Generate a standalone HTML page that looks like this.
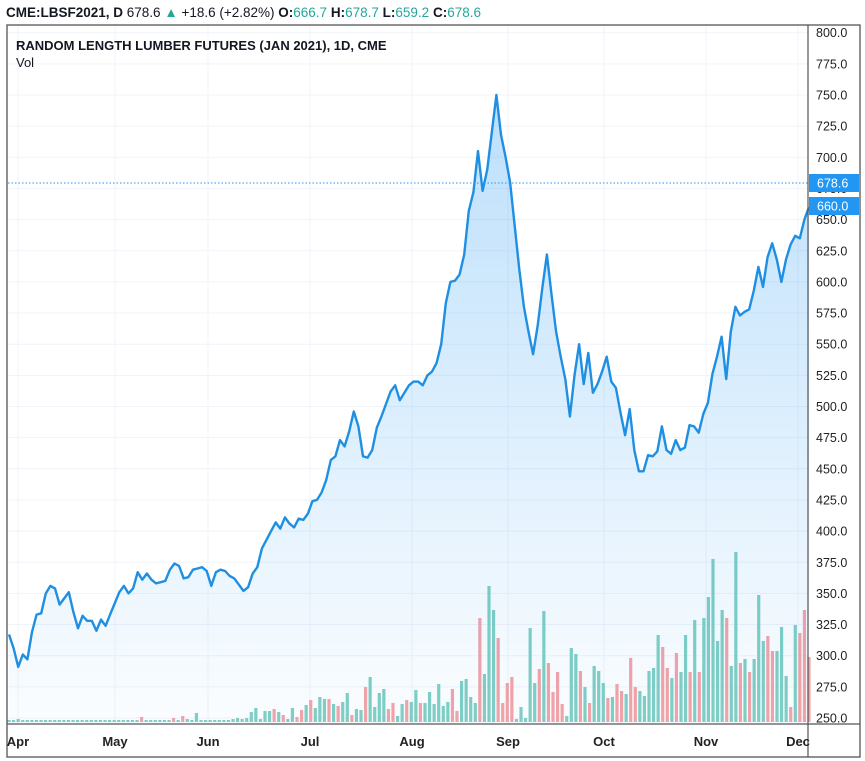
<!DOCTYPE html>
<html><head><meta charset="utf-8"><style>
body{margin:0;background:#fff;font-family:"Liberation Sans",sans-serif;}
#wrap{position:relative;width:865px;height:761px;overflow:hidden;}
.hdr{position:absolute;left:6px;top:5px;font-size:13.5px;color:#131722;white-space:nowrap}
.hdr b{font-weight:bold}
.g{color:#26a69a}
</style></head><body>
<div id="wrap">
<div class="hdr"><b>CME:LBSF2021, D</b> 678.6 <span class="g">▲</span> +18.6 (+2.82%) <b>O:</b><span class="g">666.7</span> <b>H:</b><span class="g">678.7</span> <b>L:</b><span class="g">659.2</span> <b>C:</b><span class="g">678.6</span></div>
<svg id="svg" width="865" height="761" style="position:absolute;left:0;top:0"></svg>
</div>
<script>
const months=["Apr","May","Jun","Jul","Aug","Sep","Oct","Nov","Dec"];
const monthX=[18,115,208,310,412,508,604,706,798];
const priceTicks=[250,275,300,325,350,375,400,425,450,475,500,525,550,575,600,625,650,675,700,725,750,775,800];
const prices=[317,306,291,301,297,319,333,334,350,356,354,341,346,351,335,322,332,328,328,320,329,324,333,342,351,356,350,354,367,361,366,361,358,359,360,369,374,372,362,363,369,370,371,368,356,367,369,368,364,362,357,352,355,366,371,386,393,400,407,402,411,406,403,410,409,414,424,425,431,441,457,460,473,468,480,496,484,460,459,465,483,492,502,512,517,505,511,517,520,520,
517,525,528,535,550,583,600,601,606,622,657,672,705,673,690,720,750,718,700,680,645,610,580,560,542,565,595,622,590,560,540,522,492,525,550,518,543,511,518,528,540,520,515,495,477,498,465,448,448,461,460,464,484,465,462,473,465,467,485,484,479,494,503,526,540,556,522,560,580,573,576,578,593,612,596,620,631,618,600,618,630,637,635,650,660];
const volumes=[2,2,3,2,2,2,2,2,2,2,2,2,2,2,2,2,2,2,2,2,2,2,2,2,2,2,2,2,2,5,2,2,2,2,2,2,4,2,6,3,2,9,2,2,2,2,2,2,2,3,4,3,
4,10,14,3,11,11,13,10,7,3,14,5,12,17,22,14,25,23,23,18,16,20,29,7,13,12,35,45,15,29,33,13,19,6,18,22,20,32,
19,19,30,18,38,16,20,33,11,41,43,25,19,104,48,136,112,84,19,39,45,3,15,4,94,39,53,111,59,30,50,18,6,74,68,51,35,19,56,51,39,24,25,38,31,28,64,35,31,26,51,54,87,75,54,44,69,50,87,50,102,50,104,125,163,81,112,104,56,170,59,63,50,63,127,81,86,71,71,95,46,15,97,89,112,65];
const volUp=[1,1,1,1,1,1,1,1,1,1,1,1,1,1,1,1,1,1,1,1,1,1,1,1,1,1,1,1,1,0,1,1,1,1,1,1,0,1,0,1,1,1,1,1,1,1,1,1,1,1,1,1,
1,1,1,1,1,1,0,1,0,1,1,0,0,1,0,1,1,1,0,1,0,1,1,0,1,1,0,1,1,1,1,0,0,1,1,0,1,1,
0,1,1,1,1,1,1,0,0,1,1,1,1,0,1,1,1,0,0,0,0,1,1,1,1,1,0,1,0,0,0,0,1,1,1,0,1,0,1,1,1,0,1,0,0,1,0,0,1,1,1,1,1,0,0,1,0,1,1,0,1,0,1,1,1,1,1,0,1,1,0,1,0,1,1,1,0,0,1,1,1,0,1];
const NS="http://www.w3.org/2000/svg";
const svg=document.getElementById('svg');
const L=8,R=808,T=25,B=724;
function yP(v){return 718-(v-250)*1.246;}
function xI(i,n){return 9+i*(800/(n-1));}
function yV(v){return 722-v*1.0;}
function mk(t,a,p){const e=document.createElementNS(NS,t);for(const k in a)e.setAttribute(k,a[k]);(p||svg).appendChild(e);return e;}
const defs=mk('defs',{});
const lg=mk('linearGradient',{id:'fg',x1:0,y1:0,x2:0,y2:1},defs);
mk('stop',{offset:'0','stop-color':'#2196f3','stop-opacity':'0.3'},lg);
mk('stop',{offset:'1','stop-color':'#2196f3','stop-opacity':'0.02'},lg);
// grid
for(const t of priceTicks){const l=mk('line',{x1:L,x2:R,y1:yP(t),y2:yP(t),stroke:'#f0f3fa'});

}
monthX.forEach(x=>{const l=mk('line',{x1:x,x2:x,y1:T,y2:B,stroke:'#f0f3fa'});

});
// volumes
const nv=volumes.length;
volumes.forEach((v,i)=>{const x=xI(i,nv);const r=mk('rect',{x:x-1.6,y:yV(v),width:3.2,height:722-yV(v),fill:volUp[i]?'#80cfc4':'#f5a3a6'});

});
// area + line
const np=prices.length;
let d='';prices.forEach((v,i)=>{d+=(i?'L':'M')+xI(i,np).toFixed(1)+','+yP(v).toFixed(1);});
const area=mk('path',{d:d+'L'+xI(np-1,np)+','+B+'L'+xI(0,np)+','+B+'Z',fill:'url(#fg)'});


const line=mk('path',{d:d,fill:'none',stroke:'#1e8fe2','stroke-width':2.4,'stroke-linejoin':'round'});


// last price dotted
const dl=mk('line',{x1:L,x2:R,y1:183,y2:183,stroke:'#2196f3','stroke-dasharray':'1.5 2','stroke-width':1});


// frame
const fr=mk('rect',{x:7,y:25,width:853,height:732,fill:'none',stroke:'#555','stroke-width':1.3});


const ax=mk('line',{x1:R,x2:R,y1:T,y2:757,stroke:'#555','stroke-width':1.2});


const bx=mk('line',{x1:7,x2:860,y1:B,y2:B,stroke:'#555','stroke-width':1.2});


// y ticks
priceTicks.forEach(t=>{if(t===250&&false)return;const tx=mk('text',{x:816,y:yP(t)+4.5,'font-size':12.5,fill:'#222','font-family':'Liberation Sans'});tx.textContent=t.toFixed(1);

});
// badges
[[678.6,183],[660.0,206]].forEach(([v,y])=>{const g=mk('g',{});


mk('rect',{x:809,y:y-9,width:50,height:18,fill:'#2196f3'},g);
const t=mk('text',{x:817,y:y+4.5,'font-size':12.5,fill:'#fff','font-family':'Liberation Sans'},g);t.textContent=v.toFixed(1);});
// x labels
months.forEach((m,i)=>{const t=mk('text',{x:monthX[i],y:746,'font-size':13,fill:'#222','text-anchor':'middle','font-weight':'bold','font-family':'Liberation Sans'});t.textContent=m;

});
// titles
const t1=mk('text',{x:16,y:50,'font-size':13,'font-weight':'bold',fill:'#131722','font-family':'Liberation Sans'});t1.textContent='RANDOM LENGTH LUMBER FUTURES (JAN 2021), 1D, CME';


const t2=mk('text',{x:16,y:67,'font-size':13,fill:'#131722','font-family':'Liberation Sans'});t2.textContent='Vol';


</script>
</body></html>
